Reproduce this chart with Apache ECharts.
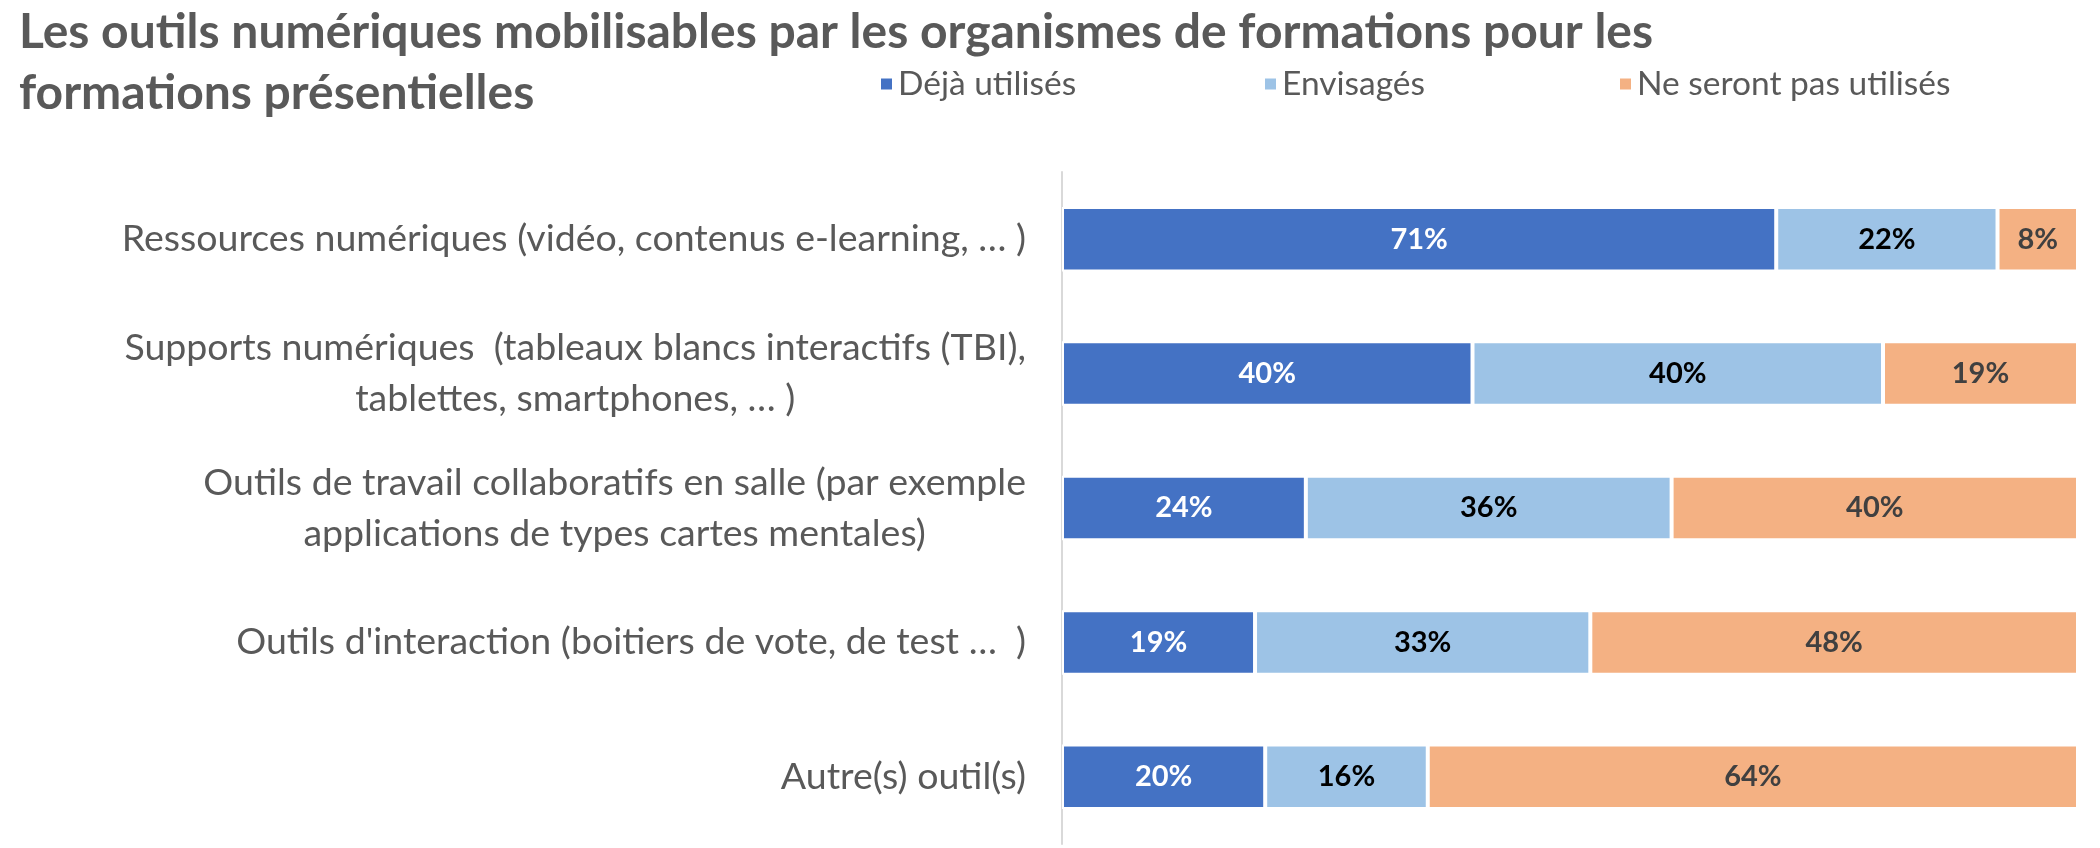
<!DOCTYPE html>
<html>
<head>
<meta charset="utf-8">
<script src="https://cdn.jsdelivr.net/npm/echarts@6/dist/echarts.min.js"></script>
<style>
html,body{margin:0;padding:0;background:#fff;}
#chart{width:2100px;height:848px;}
</style>
</head>
<body>
<div id="chart"></div>
<script>
var titleText = "Les outils numériques mobilisables par les organismes de formations pour les\nformations présentielles";
var categories = [
  "Ressources numériques (vidéo, contenus e-learning, … )",
  "Supports numériques  (tableaux blancs interactifs (TBI),\ntablettes, smartphones, … )",
  "Outils de travail collaboratifs en salle (par exemple\napplications de types cartes mentales)",
  "Outils d'interaction (boitiers de vote, de test …  )",
  "Autre(s) outil(s)"
];
var seriesNames = ["Déjà utilisés", "Envisagés", "Ne seront pas utilisés"];
var dejaUtilises = [71, 40, 24, 19, 20];
var envisages = [22, 40, 36, 33, 16];
var neSerontPas = [8, 19, 40, 48, 64];

var raw = [dejaUtilises, envisages, neSerontPas];
var colors = ["#4472C4", "#9DC3E6", "#F4B183"];
var labelColors = ["#FFFFFF", "#000000", "#404040"];
var FONT = "Lato, 'Noto Sans', sans-serif";

// 100% stacked: normalise each row by its total (as the spreadsheet does)
var totals = categories.map(function (_, i) {
  return raw[0][i] + raw[1][i] + raw[2][i];
});

var series = raw.map(function (arr, s) {
  return {
    name: seriesNames[s],
    type: "bar",
    stack: "total",
    barWidth: "48%",
    itemStyle: { color: colors[s], borderColor: "#FFFFFF", borderWidth: 2 },
    label: {
      show: true,
      position: "inside",
      color: labelColors[s],
      fontFamily: FONT,
      fontWeight: "bold",
      fontSize: 29,
      formatter: function (p) { return arr[p.dataIndex] + "%"; }
    },
    data: arr.map(function (v, i) { return v / totals[i] * 100; })
  };
});

function legendAt(idx, left) {
  return {
    data: [seriesNames[idx]],
    left: left,
    top: 62,
    icon: "rect",
    itemWidth: 13,
    itemHeight: 13,
    itemGap: 9,
    textStyle: { color: "#595959", fontSize: 33.5, fontFamily: FONT }
  };
}

var chart = echarts.init(document.getElementById("chart"), null, { renderer: "canvas" });
chart.setOption({
  backgroundColor: "#FFFFFF",
  animation: false,
  color: colors,
  title: {
    text: titleText,
    left: 14,
    top: -3,
    textStyle: { color: "#595959", fontSize: 48, fontWeight: "bold", fontFamily: FONT, lineHeight: 61 }
  },
  legend: [legendAt(0, 874), legendAt(1, 1258), legendAt(2, 1613)],
  grid: { left: 1062, right: 22, top: 172, bottom: 4, containLabel: false },
  xAxis: {
    type: "value",
    min: 0,
    max: 100,
    show: false
  },
  yAxis: {
    type: "category",
    inverse: true,
    data: categories,
    axisLine: { show: true, lineStyle: { color: "#D9D9D9", width: 2 } },
    axisTick: { show: false },
    axisLabel: {
      margin: 36,
      color: "#595959",
      fontFamily: FONT,
      fontSize: 37.5,
      formatter: function (v) {
        return v.split("\n").map(function (l) { return "{c|" + l + "}"; }).join("\n");
      },
      rich: { c: { align: "center", color: "#595959", fontFamily: FONT, fontSize: 37.5, lineHeight: 51 } }
    }
  },
  series: series
});
</script>
</body>
</html>
